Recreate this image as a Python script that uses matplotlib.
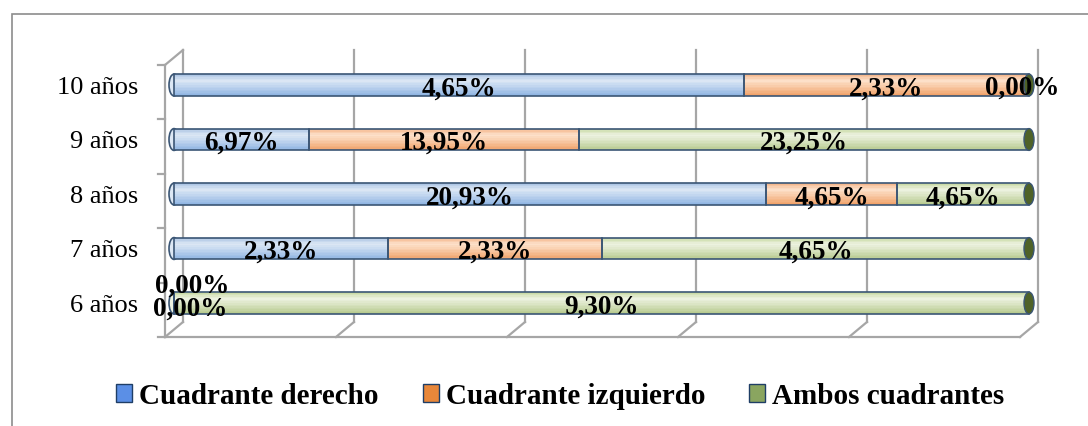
import numpy as np
import matplotlib
matplotlib.use("Agg")
import matplotlib.pyplot as plt
from matplotlib.patches import Rectangle, Ellipse, Patch
from matplotlib.colors import to_rgb

# data (percent values as printed on the chart)
categories = ["6 años", "7 años", "8 años", "9 años", "10 años"]
derecho = [0.00, 2.33, 20.93, 6.97, 4.65]
izquierdo = [0.00, 2.33, 4.65, 13.95, 2.33]
ambos = [9.30, 4.65, 4.65, 23.25, 0.00]
series_names = ["Cuadrante derecho", "Cuadrante izquierdo", "Ambos cuadrantes"]

# gradient stops per series: bottom, light (upper middle), top
grad = [("#8DB3E2", "#DDE8F5", "#A9C3E3"),
        ("#F0A066", "#FDE2CC", "#F3B487"),
        ("#B5C98C", "#EEF3E2", "#C6D8A0")]
legend_cols = ["#5B8FE6", "#E8873A", "#8AA560"]
outline = "#3B5675"
cap_col = "#4F6228"
wall = "#A6A6A6"

plt.rcParams["font.family"] = ["Liberation Serif", "DejaVu Serif"]

fig = plt.figure(figsize=(10.88, 4.26), dpi=100)
ax = fig.add_axes([0, 0, 1, 1])
ax.axis("off")

# pixel <-> data helpers (bars go from 0 to 1 share)
PX0, PXU = 174, 855
PY0, PYU = 303, 54.5
def fx(px): return (px - PX0) / PXU
def fy(py): return (PY0 - py) / PYU

ax.set_xlim(fx(0), fx(1088))
ax.set_ylim(fy(426), fy(0))

# 3D walls / gridlines
fx0, fx1 = fx(165), fx(1020)
fb, ft = fy(337), fy(65)
dx, dy = fx(183) - fx(165), fy(50) - fy(65)
grid = np.linspace(0, 1, 6)
for g in grid:
    gx = fx0 + g * (fx1 - fx0)
    ax.plot([gx + dx, gx + dx], [fb + dy, ft + dy], color=wall, lw=1.6, zorder=1)
    ax.plot([gx + dx, gx], [fb + dy, fb], color=wall, lw=1.6, zorder=1)
ax.plot([fx0, fx1], [fb, fb], color=wall, lw=1.6, zorder=1)
ax.plot([fx0, fx0], [fb, ft], color=wall, lw=1.6, zorder=1)
ax.plot([fx0, fx0 + dx], [ft, ft + dy], color=wall, lw=1.6, zorder=1)
for k in range(6):
    ty = fb + k * (ft - fb) / 5
    ax.plot([fx(158), fx0], [ty, ty], color=wall, lw=1.6, zorder=1)

# bars
vals = np.array([derecho, izquierdo, ambos])
tot = vals.sum(axis=0)
share = vals / tot
y = np.arange(len(categories))
h = 0.40
nb = 14

def band_color(stops, t):
    lo, mid, hi = (np.array(to_rgb(c)) for c in stops)
    if t < 0.7:
        return lo + (mid - lo) * (t / 0.7)
    return mid + (hi - mid) * ((t - 0.7) / 0.3)

left = np.zeros(len(categories))
for i in range(3):
    for k in range(nb):
        t = (k + 0.5) / nb
        ax.barh(y - h / 2 + h * k / nb, share[i], left=left, height=h / nb * 1.05,
                align="edge", color=band_color(grad[i], t), lw=0, zorder=3)
    ax.barh(y, share[i], left=left, height=h, facecolor="none",
            edgecolor=outline, lw=1.2, zorder=3.5)
    left = left + share[i]

ew = 10 / PXU
for j in range(len(categories)):
    first = next(i for i in range(3) if share[i][j] > 0)
    ax.add_patch(Ellipse((0, y[j]), ew, h, facecolor=grad[first][1],
                         edgecolor=outline, lw=1.2, zorder=2))
    ax.add_patch(Ellipse((1, y[j]), ew, h, facecolor=cap_col,
                         edgecolor=outline, lw=1.0, zorder=4))

# data labels
nudge = {(0, 0): (18, 17), (0, 1): (16, -6), (4, 2): (-7, -3)}
left = np.zeros(len(categories))
for i in range(3):
    for j in range(len(categories)):
        cx = left[j] + share[i][j] / 2
        txt = f"{vals[i][j]:.2f}%".replace(".", ",")
        ox, oy = nudge.get((j, i), (0, -4))
        ax.annotate(txt, (cx, y[j]), xytext=(ox, oy), textcoords="offset pixels",
                    ha="center", va="center", fontsize=19.5, fontweight="bold",
                    zorder=6)
    left = left + share[i]

# category labels
for j, c in enumerate(categories):
    ax.text(fx(138), y[j] - 0.05, c, ha="right", va="center", fontsize=19)

# legend
handles = [Patch(facecolor=legend_cols[i], edgecolor="#1F3E66", lw=1.0)
           for i in range(3)]
fig.legend(handles, series_names, loc="center", bbox_to_anchor=(0.515, 1 - 396 / 426),
           ncol=3, frameon=False, handlelength=0.55, handleheight=0.6,
           handletextpad=0.25, columnspacing=1.5,
           prop=dict(family="Liberation Serif", weight="bold", size=21))

# outer chart border
fig.patches.append(Rectangle((12 / 1088, -0.1), 1.2, (426 - 14) / 426 + 0.1,
                             transform=fig.transFigure, fill=False,
                             edgecolor="#8C8C8C", lw=1.2))

fig.savefig("out.png", dpi=100)
